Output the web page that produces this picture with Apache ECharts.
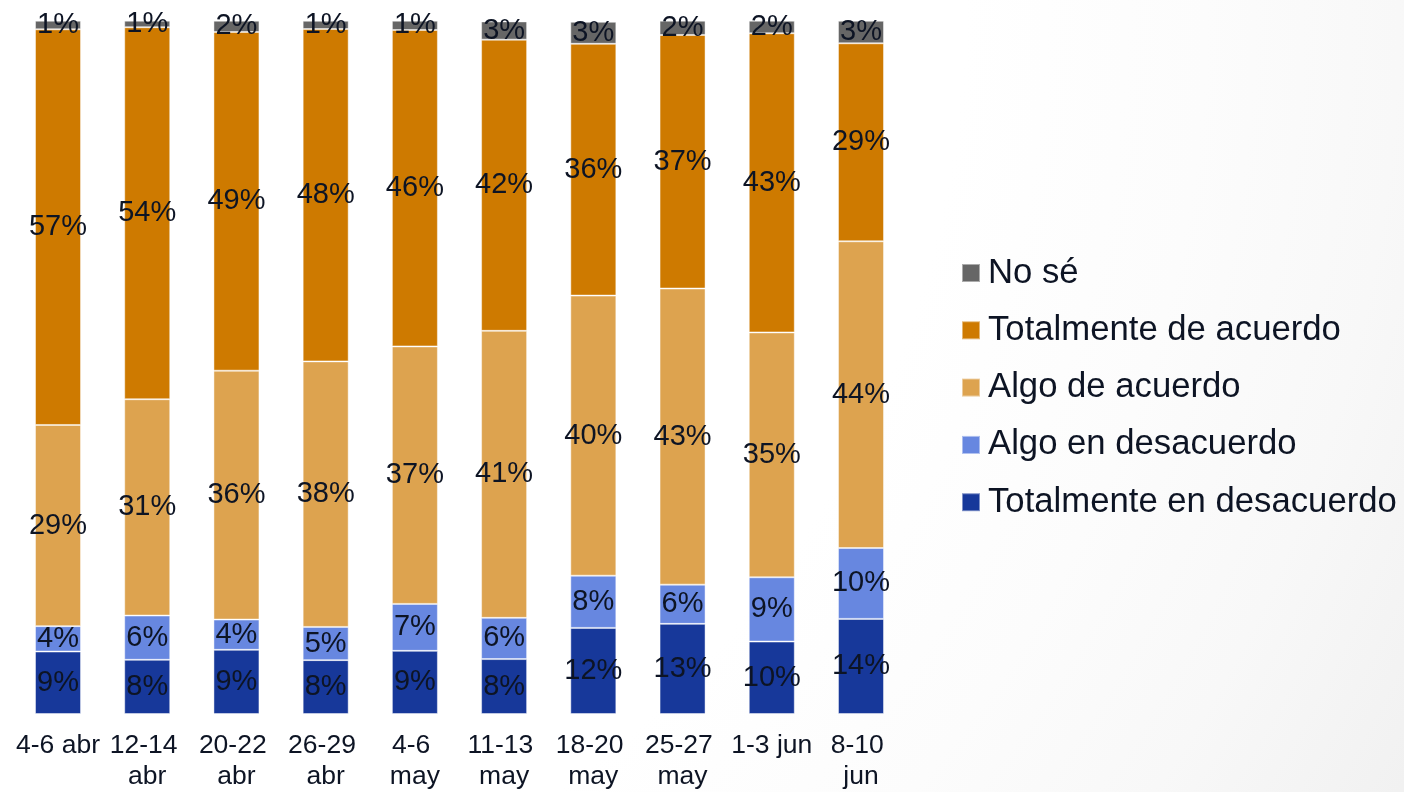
<!DOCTYPE html>
<html>
<head>
<meta charset="utf-8">
<script src="https://cdn.jsdelivr.net/npm/echarts@6/dist/echarts.min.js"></script>
<style>
html,body{margin:0;padding:0;}
#chart{width:1404px;height:792px;}
</style>
</head>
<body>
<div id="chart"></div>
<script>
const categories = ["4-6 abr","12-14 abr","20-22 abr","26-29 abr","4-6 may","11-13 may","18-20 may","25-27 may","1-3 jun","8-10 jun"];
const totalDesacuerdo = [9.01, 7.82, 9.26, 7.77, 9.11, 7.92, 12.42, 13.0, 10.45, 13.72];
const algoDesacuerdo  = [3.66, 6.38, 4.36, 4.79, 6.77, 5.95, 7.53, 5.66, 9.27, 10.22];
const algoAcuerdo     = [29.02, 31.2, 35.9, 38.3, 37.14, 41.4, 40.4, 42.71, 35.32, 44.24];
const totalAcuerdo    = [57.07, 53.66, 48.85, 47.94, 45.64, 42.0, 36.32, 36.57, 43.15, 28.56];
const noSe            = [1.24, 0.95, 1.63, 1.19, 1.34, 2.63, 3.17, 2.06, 1.81, 3.25];

const names = ["Totalmente en desacuerdo","Algo en desacuerdo","Algo de acuerdo","Totalmente de acuerdo","No sé"];
const colors = ["#17389A","#6787E0","#DDA34F","#CE7A00","#666666"];
const values = [totalDesacuerdo, algoDesacuerdo, algoAcuerdo, totalAcuerdo, noSe];

const textColor = '#0d1424';
const font = '"Liberation Sans", Arial, sans-serif';

const chart = echarts.init(document.getElementById('chart'));
chart.setOption({
  animation: false,
  backgroundColor: {
    type: 'radial', x: 0, y: 0, r: 2.03,
    colorStops: [
      {offset: 0, color: '#ffffff'},
      {offset: 0.6, color: '#ffffff'},
      {offset: 0.75, color: '#fcfcfc'},
      {offset: 0.87, color: '#f8f8f8'},
      {offset: 1, color: '#f1f1f1'}
    ]
  },
  grid: {left: 13.4, width: 892.2, top: 20.7, bottom: 76.7, containLabel: false},
  legend: {
    orient: 'vertical',
    left: 956,
    top: 250,
    data: ["No sé","Totalmente de acuerdo","Algo de acuerdo","Algo en desacuerdo","Totalmente en desacuerdo"],
    icon: 'rect',
    itemWidth: 18,
    itemHeight: 18,
    itemGap: 21.3,
    textStyle: {fontSize: 34.7, color: textColor, fontFamily: font, lineHeight: 36, padding: [0,0,0,3]}
  },
  xAxis: {
    type: 'category',
    data: categories,
    axisLine: {show: false},
    axisTick: {show: false},
    axisLabel: {
      fontSize: 26.5, color: textColor, fontFamily: font, lineHeight: 31,
      margin: 16, width: 89, overflow: 'break', interval: 0
    }
  },
  yAxis: {type: 'value', min: 0, max: 100, show: false, splitLine: {show: false}},
  series: names.map((n, i) => ({
    name: n,
    type: 'bar',
    stack: 'total',
    barWidth: 46,
    data: values[i],
    itemStyle: {color: colors[i], borderColor: 'rgba(255,255,255,0.45)', borderWidth: 1},
    label: {
      show: true, position: 'inside',
      formatter: p => Math.round(p.value) + '%',
      fontSize: 29, color: textColor, fontFamily: font
    }
  }))
});
</script>
</body>
</html>
